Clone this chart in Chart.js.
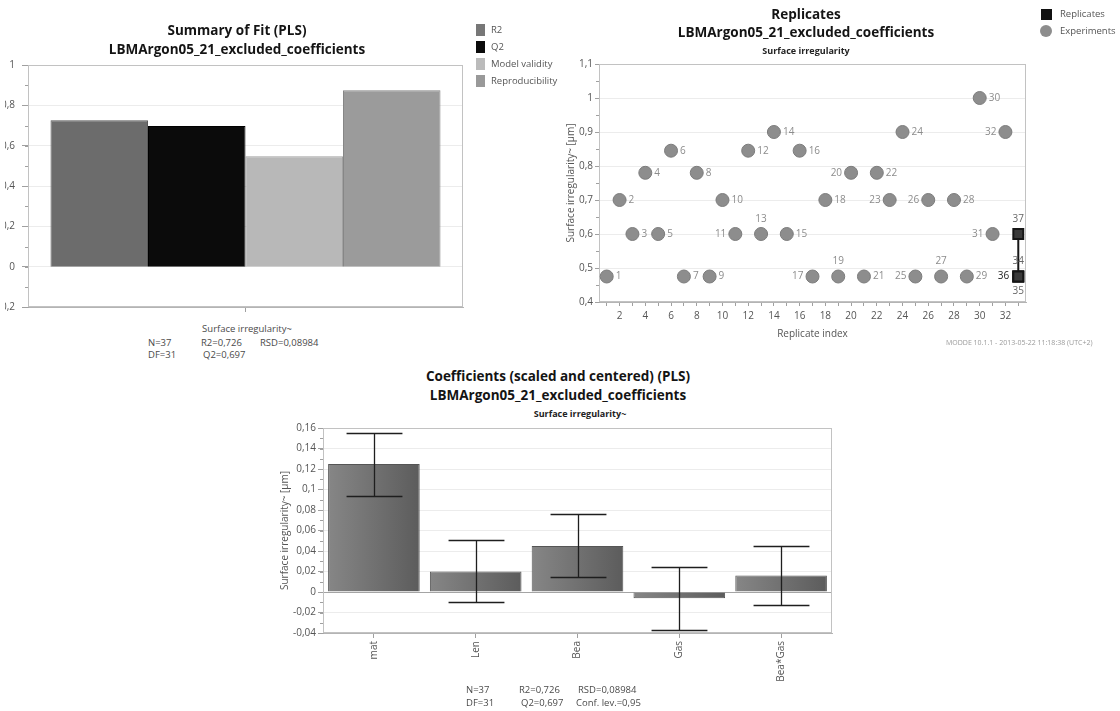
<!DOCTYPE html>
<html lang="en">
<head>
<meta charset="utf-8">
<title>PLS model overview</title>
<script src="https://cdn.jsdelivr.net/npm/chart.js@4.4.1/dist/chart.umd.min.js"></script>
<style>
  html, body { margin:0; padding:0; background:#fff; }
  body { position:relative; width:1120px; height:711px; overflow:hidden; font-family:"Open Sans", "DejaVu Sans", sans-serif; color:#333; }
  .t { position:absolute; white-space:nowrap; line-height:1; }
  .c { transform:translate(-50%,-50%); }
  .l { transform:translateY(-50%); }
  .title { font-weight:700; font-size:13.5px; color:#141414; }
  .sub { font-weight:700; font-size:9px; color:#222; }
  .note { font-size:9.5px; color:#4a4a4a; }
  .leg { font-size:9.5px; color:#555; }
  .sw { position:absolute; }
  canvas { position:absolute; display:block; }
  #fitClip { position:absolute; left:5px; top:0; width:470px; height:320px; overflow:hidden; }
</style>
</head>
<body>
<div id="fitClip"><canvas id="fit" width="475" height="320" style="left:-5px;top:0"></canvas></div>
<canvas id="rep" width="480" height="350" style="left:560px;top:0"></canvas>
<canvas id="coef" width="580" height="291" style="left:270px;top:420px"></canvas>

<!-- Summary of fit: titles, legend, statistics -->
<div class="t c title" style="left:237px;top:31px">Summary of Fit (PLS)</div>
<div class="t c title" style="left:237px;top:50px">LBMArgon05_21_excluded_coefficients</div>
<div class="sw" style="left:476px;top:24px;width:9px;height:12px;background:#777"></div>
<div class="t l leg" style="left:491px;top:30px">R2</div>
<div class="sw" style="left:476px;top:41px;width:9px;height:12px;background:#0b0b0b"></div>
<div class="t l leg" style="left:491px;top:47px">Q2</div>
<div class="sw" style="left:476px;top:58px;width:9px;height:12px;background:#bbb"></div>
<div class="t l leg" style="left:491px;top:64px">Model validity</div>
<div class="sw" style="left:476px;top:75px;width:9px;height:12px;background:#999"></div>
<div class="t l leg" style="left:491px;top:81px">Reproducibility</div>
<div class="t c note" style="left:247px;top:329px">Surface irregularity~</div>
<div class="t l note" style="left:148px;top:343px">N=37</div>
<div class="t l note" style="left:201px;top:343px">R2=0,726</div>
<div class="t l note" style="left:260px;top:343px">RSD=0,08984</div>
<div class="t l note" style="left:148px;top:355px">DF=31</div>
<div class="t l note" style="left:203px;top:355px">Q2=0,697</div>

<!-- Replicate plot: titles, legend, footnote -->
<div class="t c title" style="left:806px;top:15px">Replicates</div>
<div class="t c title" style="left:806px;top:33px">LBMArgon05_21_excluded_coefficients</div>
<div class="t c sub" style="left:806px;top:50px">Surface irregularity</div>
<div class="sw" style="left:1041px;top:9px;width:11px;height:11px;background:#111"></div>
<div class="t l leg" style="left:1060px;top:14px">Replicates</div>
<div class="sw" style="left:1040px;top:25px;width:12px;height:12px;border-radius:50%;background:#8d8d8d"></div>
<div class="t l leg" style="left:1060px;top:31px">Experiments</div>
<div class="t l" style="left:946px;top:342px;font-size:7px;color:#9a9a9a">MODDE 10.1.1 - 2013-05-22 11:18:38 (UTC+2)</div>

<!-- Coefficient plot: titles, statistics -->
<div class="t c title" style="left:558px;top:377px">Coefficients (scaled and centered) (PLS)</div>
<div class="t c title" style="left:558px;top:396px">LBMArgon05_21_excluded_coefficients</div>
<div class="t c sub" style="left:580px;top:413px">Surface irregularity~</div>
<div class="t l note" style="left:466px;top:690px">N=37</div>
<div class="t l note" style="left:519px;top:690px">R2=0,726</div>
<div class="t l note" style="left:578px;top:690px">RSD=0,08984</div>
<div class="t l note" style="left:466px;top:703px">DF=31</div>
<div class="t l note" style="left:521px;top:703px">Q2=0,697</div>
<div class="t l note" style="left:576px;top:703px">Conf. lev.=0,95</div>

<script>
// ---- Summary of fit ----
const fitNames = ['R2', 'Q2', 'Model validity', 'Reproducibility'];
const fitValues = [0.726, 0.697, 0.548, 0.875];
const fitColors = ['#6c6c6c', '#0b0b0b', '#b8b8b8', '#9b9b9b'];
const fitEdges = ['#585858', '#000000', '#a2a2a2', '#868686'];

// ---- Replicate plot ----
const expIndex = [1, 2, 3, 4, 5, 6, 7, 8, 9, 10, 11, 12, 13, 14, 15, 16,
                  17, 18, 19, 20, 21, 22, 23, 24, 25, 26, 27, 28, 29, 30, 31, 32];
const expValues = [0.475, 0.70, 0.60, 0.78, 0.60, 0.845, 0.475, 0.78, 0.475, 0.70, 0.60, 0.845, 0.60, 0.90, 0.60, 0.845,
                   0.475, 0.70, 0.475, 0.78, 0.475, 0.78, 0.70, 0.90, 0.475, 0.70, 0.475, 0.70, 0.475, 1.00, 0.60, 0.90];
const expLabelSide = ['r', 'r', 'r', 'r', 'r', 'r', 'r', 'r', 'r', 'r', 'l', 'r', 't', 'r', 'r', 'r',
                      'l', 'r', 't', 'l', 'r', 'r', 'l', 'r', 'l', 'l', 't', 'r', 'r', 'r', 'l', 'l'];
const repIndex = [33, 33, 33, 33];
const repValues = [0.475, 0.475, 0.475, 0.60];
const repIds = ['34', '35', '36', '37'];
const repLabelSide = ['t', 'b', 'l', 't'];

// ---- Coefficients ----
const coefNames = ['mat', 'Len', 'Bea', 'Gas', 'Bea*Gas'];
const coefValues = [0.125, 0.020, 0.045, -0.006, 0.016];
const coefLow = [0.094, -0.010, 0.015, -0.037, -0.013];
const coefHigh = [0.155, 0.051, 0.076, 0.024, 0.045];

Chart.defaults.font.family = '"Open Sans", "DejaVu Sans", sans-serif';
Chart.defaults.font.size = 10;
Chart.defaults.color = '#555';

// decimal comma labels
const fmt = v => String(Math.round(v * 1000) / 1000).replace('.', ',');

// outline around the plotting area
const framePlugin = {
  id: 'frame',
  beforeDatasetsDraw(chart, args, opts) {
    const a = chart.chartArea, c = chart.ctx;
    c.save();
    c.strokeStyle = opts.color || '#c4c4c4';
    c.lineWidth = 1;
    c.strokeRect(Math.round(a.left) + 0.5, Math.round(a.top) + 0.5,
                 Math.round(a.right - a.left) - 1, Math.round(a.bottom - a.top) - 1);
    c.restore();
  }
};

// short unlabeled ticks between the labeled ones
const minorTicks = {
  id: 'minorTicks',
  afterDraw(chart, args, opts) {
    const c = chart.ctx;
    (opts.axes || []).forEach(ax => {
      const s = chart.scales[ax.id];
      c.save();
      c.strokeStyle = ax.color || '#999';
      c.lineWidth = 1;
      const n = Math.round((s.max - s.min) / ax.step);
      for (let k = 0; k <= n; k++) {
        const v = s.min + k * ax.step;
        const p = Math.round(s.getPixelForValue(v)) + 0.5;
        c.beginPath();
        if (s.isHorizontal()) { c.moveTo(p, s.top); c.lineTo(p, s.top + ax.len); }
        else { c.moveTo(s.right, p); c.lineTo(s.right - ax.len, p); }
        c.stroke();
      }
      c.restore();
    });
  }
};

// run numbers next to each point
const pointLabels = {
  id: 'pointLabels',
  afterDatasetsDraw(chart, args, opts) {
    const c = chart.ctx;
    c.save();
    c.font = '10px "Open Sans", "DejaVu Sans", sans-serif';
    c.textBaseline = 'middle';
    (opts.sets || []).forEach(set => {
      const meta = chart.getDatasetMeta(set.dataset);
      meta.data.forEach((pt, i) => {
        const side = set.side[i];
        let x = pt.x, y = pt.y;
        c.fillStyle = (set.strong && set.strong[i]) ? '#222' : set.color;
        if (side === 'r') { c.textAlign = 'left'; x += 9; }
        else if (side === 'l') { c.textAlign = 'right'; x -= 9; }
        else if (side === 't') { c.textAlign = 'center'; y -= 15; }
        else { c.textAlign = 'center'; y += 15; }
        c.fillText(set.text[i], x, y);
      });
    });
    c.restore();
  }
};

// confidence intervals on the coefficient bars
const errorBars = {
  id: 'errorBars',
  afterDatasetsDraw(chart, args, opts) {
    const c = chart.ctx, ys = chart.scales.y;
    const meta = chart.getDatasetMeta(0);
    c.save();
    c.strokeStyle = opts.color;
    c.lineWidth = opts.width;
    meta.data.forEach((bar, i) => {
      const x = Math.round(bar.x) + 0.5;
      const hw = bar.width * opts.capRatio / 2;
      const yl = Math.round(ys.getPixelForValue(opts.low[i])) + 0.5;
      const yh = Math.round(ys.getPixelForValue(opts.high[i])) + 0.5;
      c.beginPath();
      c.moveTo(x, yl); c.lineTo(x, yh);
      c.moveTo(x - hw, yh); c.lineTo(x + hw, yh);
      c.moveTo(x - hw, yl); c.lineTo(x + hw, yl);
      c.stroke();
    });
    c.restore();
  }
};

const gridColor = ctx => (ctx.tick && ctx.tick.value === 0) ? '#a4a4a4' : '#ececec';

// ================= Summary of Fit =================
new Chart(document.getElementById('fit'), {
  type: 'bar',
  data: {
    labels: [''],
    datasets: fitNames.map((name, i) => ({
      label: name,
      data: [fitValues[i]],
      backgroundColor: fitColors[i],
      borderColor: fitEdges[i],
      borderWidth: 1,
      barPercentage: 1,
      categoryPercentage: 0.8966
    }))
  },
  options: {
    responsive: false, animation: false, devicePixelRatio: 1,
    layout: { padding: { left: 0, right: 12, top: 65, bottom: 2 } },
    plugins: {
      legend: { display: false }, tooltip: { enabled: false },
      frame: { color: '#c2c2c2' },
      minorTicks: { axes: [{ id: 'y', step: 0.1, len: 3, color: '#a0a0a0' }] }
    },
    scales: {
      x: {
        grid: { drawOnChartArea: false, offset: false, tickLength: 5, color: '#a0a0a0' },
        border: { color: '#b4b4b4' },
        ticks: { padding: 0 },
        afterFit(s) { s.height = 6; }
      },
      y: {
        min: -0.2, max: 1,
        ticks: { stepSize: 0.2, padding: 7, callback: v => fmt(v), color: '#555', maxTicksLimit: 20 },
        grid: { color: gridColor, tickColor: '#a0a0a0', tickLength: 6 },
        border: { color: '#a8a8a8' },
        afterFit(s) { s.width = 28; }
      }
    }
  },
  plugins: [framePlugin, minorTicks]
});

// ================= Replicates =================
new Chart(document.getElementById('rep'), {
  type: 'scatter',
  data: {
    datasets: [
      {
        label: 'Replicates',
        data: repIndex.map((x, i) => ({ x, y: repValues[i] })),
        pointStyle: 'rect', pointRadius: 7,
        backgroundColor: '#3a3a3a', borderColor: '#161616', borderWidth: 2,
        showLine: true
      },
      {
        label: 'Experiments',
        data: expIndex.map((x, i) => ({ x, y: expValues[i] })),
        pointStyle: 'circle', pointRadius: 6.5,
        backgroundColor: '#8d8d8d', borderColor: '#7c7c7c', borderWidth: 1
      }
    ]
  },
  options: {
    responsive: false, animation: false, devicePixelRatio: 1,
    layout: { padding: { left: 0, right: 14, top: 64, bottom: 4 } },
    plugins: {
      legend: { display: false }, tooltip: { enabled: false },
      frame: { color: '#c2c2c2' },
      minorTicks: { axes: [{ id: 'y', step: 0.05, len: 3, color: '#a0a0a0' }] },
      pointLabels: {
        sets: [
          { dataset: 1, text: expIndex.map(String), side: expLabelSide, color: '#8c8c8c' },
          { dataset: 0, text: repIds, side: repLabelSide, color: '#666', strong: [false, false, true, false] }
        ]
      }
    },
    scales: {
      x: {
        type: 'linear', min: 0.4, max: 33.6,
        ticks: {
          stepSize: 1, includeBounds: false, autoSkip: false, maxRotation: 0, maxTicksLimit: 100,
          padding: 4, color: '#555',
          callback: v => (v % 2 === 0 ? String(v) : '')
        },
        grid: { drawOnChartArea: false, tickLength: 4, color: '#a0a0a0' },
        border: { color: '#b4b4b4' },
        title: { display: true, text: 'Replicate index', color: '#555', font: { size: 10 }, padding: { top: 0, bottom: 6 } },
        afterFit(s) { s.height = 44; }
      },
      y: {
        min: 0.4, max: 1.1,
        ticks: { stepSize: 0.1, padding: 2, callback: v => fmt(v), color: '#555', maxTicksLimit: 20 },
        grid: { color: '#ececec', tickColor: '#a0a0a0', tickLength: 4 },
        border: { color: '#a8a8a8' },
        title: { display: true, text: 'Surface irregularity~ [µm]', color: '#555', font: { size: 10 }, padding: { top: 5, bottom: 0 } },
        afterFit(s) { s.width = 39; }
      }
    }
  },
  plugins: [framePlugin, minorTicks, pointLabels]
});

// ================= Coefficients =================
new Chart(document.getElementById('coef'), {
  type: 'bar',
  data: {
    labels: coefNames,
    datasets: [{
      label: 'Coefficient',
      data: coefValues,
      backgroundColor(ctx) {
        const ch = ctx.chart, xs = ch.scales.x;
        if (!ch.chartArea || !xs) return '#6e6e6e';
        const cx = xs.getPixelForValue(ctx.dataIndex);
        if (!isFinite(cx)) return '#6e6e6e';
        const hw = xs.width / coefNames.length * 0.45;
        const g = ch.ctx.createLinearGradient(cx - hw, 0, cx + hw, 0);
        g.addColorStop(0, '#868686');
        g.addColorStop(1, '#5c5c5c');
        return g;
      },
      borderColor: '#555',
      borderWidth: 1,
      barPercentage: 0.9,
      categoryPercentage: 1
    }]
  },
  options: {
    responsive: false, animation: false, devicePixelRatio: 1,
    layout: { padding: { left: 0, right: 18, top: 7, bottom: 18 } },
    plugins: {
      legend: { display: false }, tooltip: { enabled: false },
      frame: { color: '#c2c2c2' },
      minorTicks: { axes: [{ id: 'y', step: 0.01, len: 3, color: '#a0a0a0' }] },
      errorBars: { low: coefLow, high: coefHigh, color: '#1e1e1e', width: 1.3, capRatio: 0.61 }
    },
    scales: {
      x: {
        grid: { drawOnChartArea: false, offset: false, tickLength: 5, color: '#a0a0a0' },
        border: { color: '#b4b4b4' },
        ticks: { minRotation: 90, maxRotation: 90, padding: 3, autoSkip: false, color: '#555' },
        afterFit(s) { s.height = 60; }
      },
      y: {
        min: -0.04, max: 0.16,
        ticks: { stepSize: 0.02, padding: 2, callback: v => fmt(v), color: '#555', maxTicksLimit: 20 },
        grid: { color: gridColor, tickColor: '#a0a0a0', tickLength: 5 },
        border: { color: '#a8a8a8' },
        title: { display: true, text: 'Surface irregularity~ [µm]', color: '#555', font: { size: 10 }, padding: { top: 9, bottom: 0 } },
        afterFit(s) { s.width = 53; }
      }
    }
  },
  plugins: [framePlugin, minorTicks, errorBars]
});
</script>
</body>
</html>
